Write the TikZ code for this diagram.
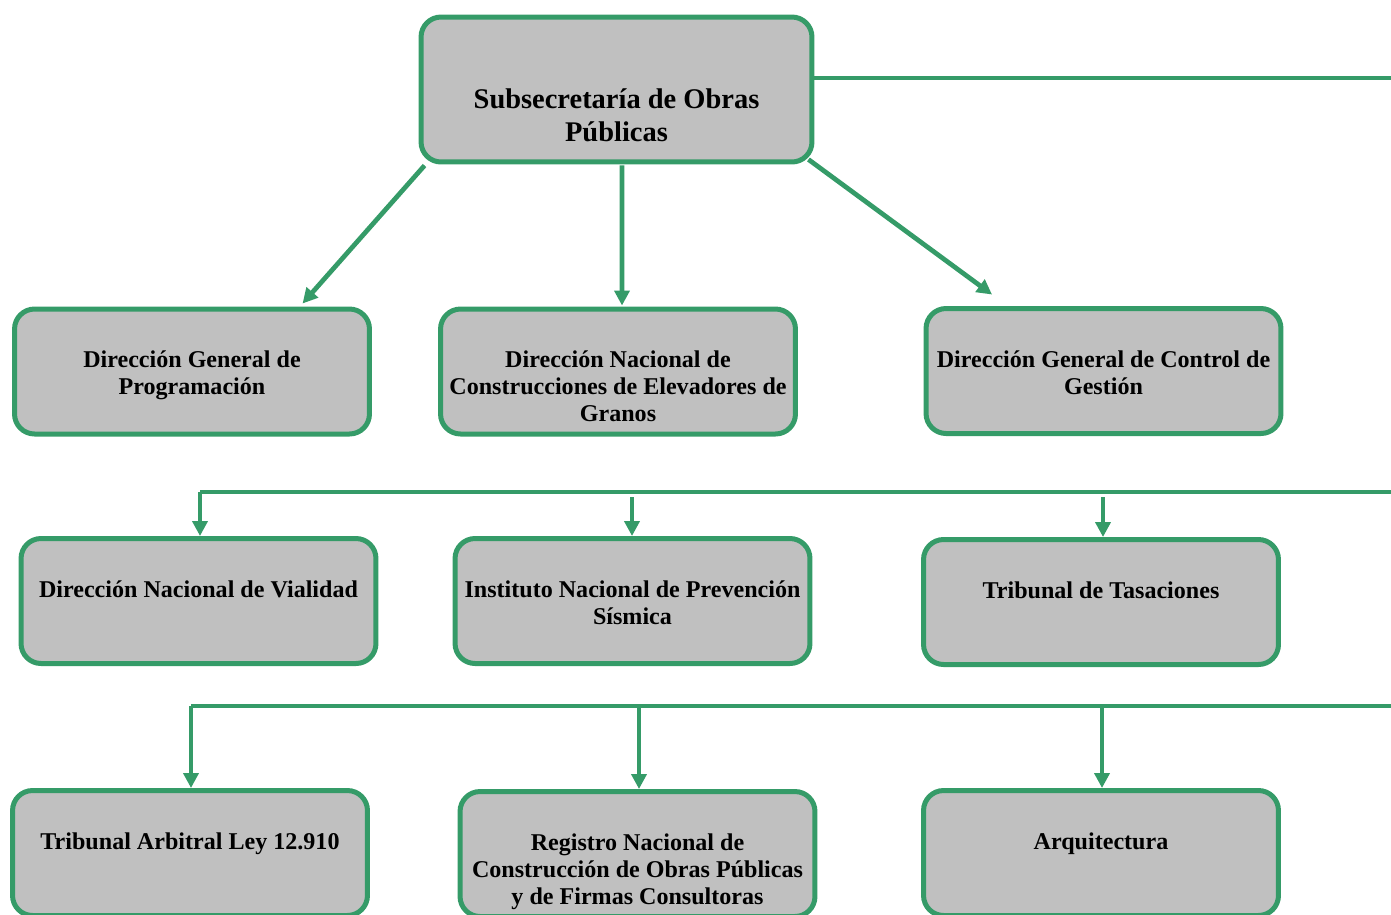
\documentclass[tikz,border=0pt]{standalone}
\usepackage{fontspec}
\setmainfont{Liberation Serif}
\usetikzlibrary{arrows.meta,calc}
\definecolor{bordergreen}{RGB}{53,155,104}
\definecolor{boxgray}{RGB}{192,192,192}
\tikzset{
  orgbox/.style={draw=bordergreen, fill=boxgray, line width=0.1cm, rounded corners=0.4cm,
    minimum width=7.1cm, minimum height=2.5cm, inner sep=0pt},
  topbox/.style={orgbox, minimum width=7.82cm, minimum height=2.9cm},
  boxtext/.style={anchor=north, align=center, inner sep=0pt, font=\bfseries\fontsize{13.7}{15.4}\selectfont},
  toptext/.style={anchor=north, align=center, inner sep=0pt, font=\bfseries\fontsize{16.2}{18.5}\selectfont},
  conn/.style={draw=bordergreen, line width=0.095cm},
  arr/.style={conn, -{Triangle[width=0.3cm,length=0.3cm]}, fill=bordergreen}
}
\begin{document}
\begin{tikzpicture}[x=0.02cm, y=-0.02cm]
\useasboundingbox (0,0) rectangle (1391,914);
\clip (0,0) rectangle (1391,914);
% boxes
\node[topbox] (top) at (616.5,89.5) {};
\node[toptext] (toptx) at ($(top.north)+(0,71)$) {\strut Subsecretaría de Obras\\Públicas};

\node[orgbox] (b1) at (192,371.5) {};
\node[orgbox] (b2) at (618,371.5) {};
\node[orgbox] (b3) at (1103.5,371) {};
\node[orgbox] (c1) at (198.5,601) {};
\node[orgbox] (c2) at (632.5,601) {};
\node[orgbox] (c3) at (1101,602) {};
\node[orgbox] (d1) at (190,853) {};
\node[orgbox] (d2) at (637.5,854) {};
\node[orgbox] (d3) at (1101,853) {};

\node[boxtext] (b1t) at ($(b1.north)+(0,42)$) {\strut Dirección General de\\Programación};
\node[boxtext] (b2t) at ($(b2.north)+(0,42)$) {\strut Dirección Nacional de\\Construcciones de Elevadores de\\Granos};
\node[boxtext] (b3t) at ($(b3.north)+(0,42)$) {\strut Dirección General de Control de\\Gestión};
\node[boxtext] (c1t) at ($(c1.north)+(0,42)$) {\strut Dirección Nacional de Vialidad};
\node[boxtext] (c2t) at ($(c2.north)+(0,42)$) {\strut Instituto Nacional de Prevención\\Sísmica};
\node[boxtext] (c3t) at ($(c3.north)+(0,42)$) {\strut Tribunal de Tasaciones};
\node[boxtext] (d1t) at ($(d1.north)+(0,42)$) {\strut Tribunal Arbitral Ley 12.910};
\node[boxtext] (d2t) at ($(d2.north)+(0,42)$) {\strut Registro Nacional de\\Construcción de Obras Públicas\\y de Firmas Consultoras};
\node[boxtext] (d3t) at ($(d3.north)+(0,42)$) {\strut Arquitectura};

% top connectors
\coordinate (r0) at (1391,78);
\draw[conn] ($(top.east)+(0,-11.5)$) -- (r0);
\draw[arr] ($(top.south west)+(6,1)$) -- ($(b1.north west)+(290.5,-3)$);
\draw[arr] ($(top.south)+(5.5,1)$) -- ($(b2.north)+(4,-1)$);
\draw[arr] ($(top.south east)+(-6,-5)$) -- ($(b3.north west)+(68.5,-11.5)$);

% second row bus
\coordinate (r1) at (1391,492);
\coordinate (k1) at (200,492);
\coordinate (k2) at (632,497);
\coordinate (k3) at (1103,497);
\draw[conn] (r1) -- (k1);
\draw[arr] (k1) -- (k1 |- c1.north);
\draw[arr] (k2) -- (k2 |- c2.north);
\draw[arr] (k3) -- (k3 |- c3.north);

% third row bus
\coordinate (r2) at (1391,706);
\coordinate (m1) at (191,706);
\coordinate (m2) at (639,706);
\coordinate (m3) at (1102,706);
\draw[conn] (r2) -- (m1);
\draw[arr] (m1) -- (m1 |- d1.north);
\draw[arr] (m2) -- (m2 |- d2.north);
\draw[arr] (m3) -- (m3 |- d3.north);
\end{tikzpicture}
\end{document}
